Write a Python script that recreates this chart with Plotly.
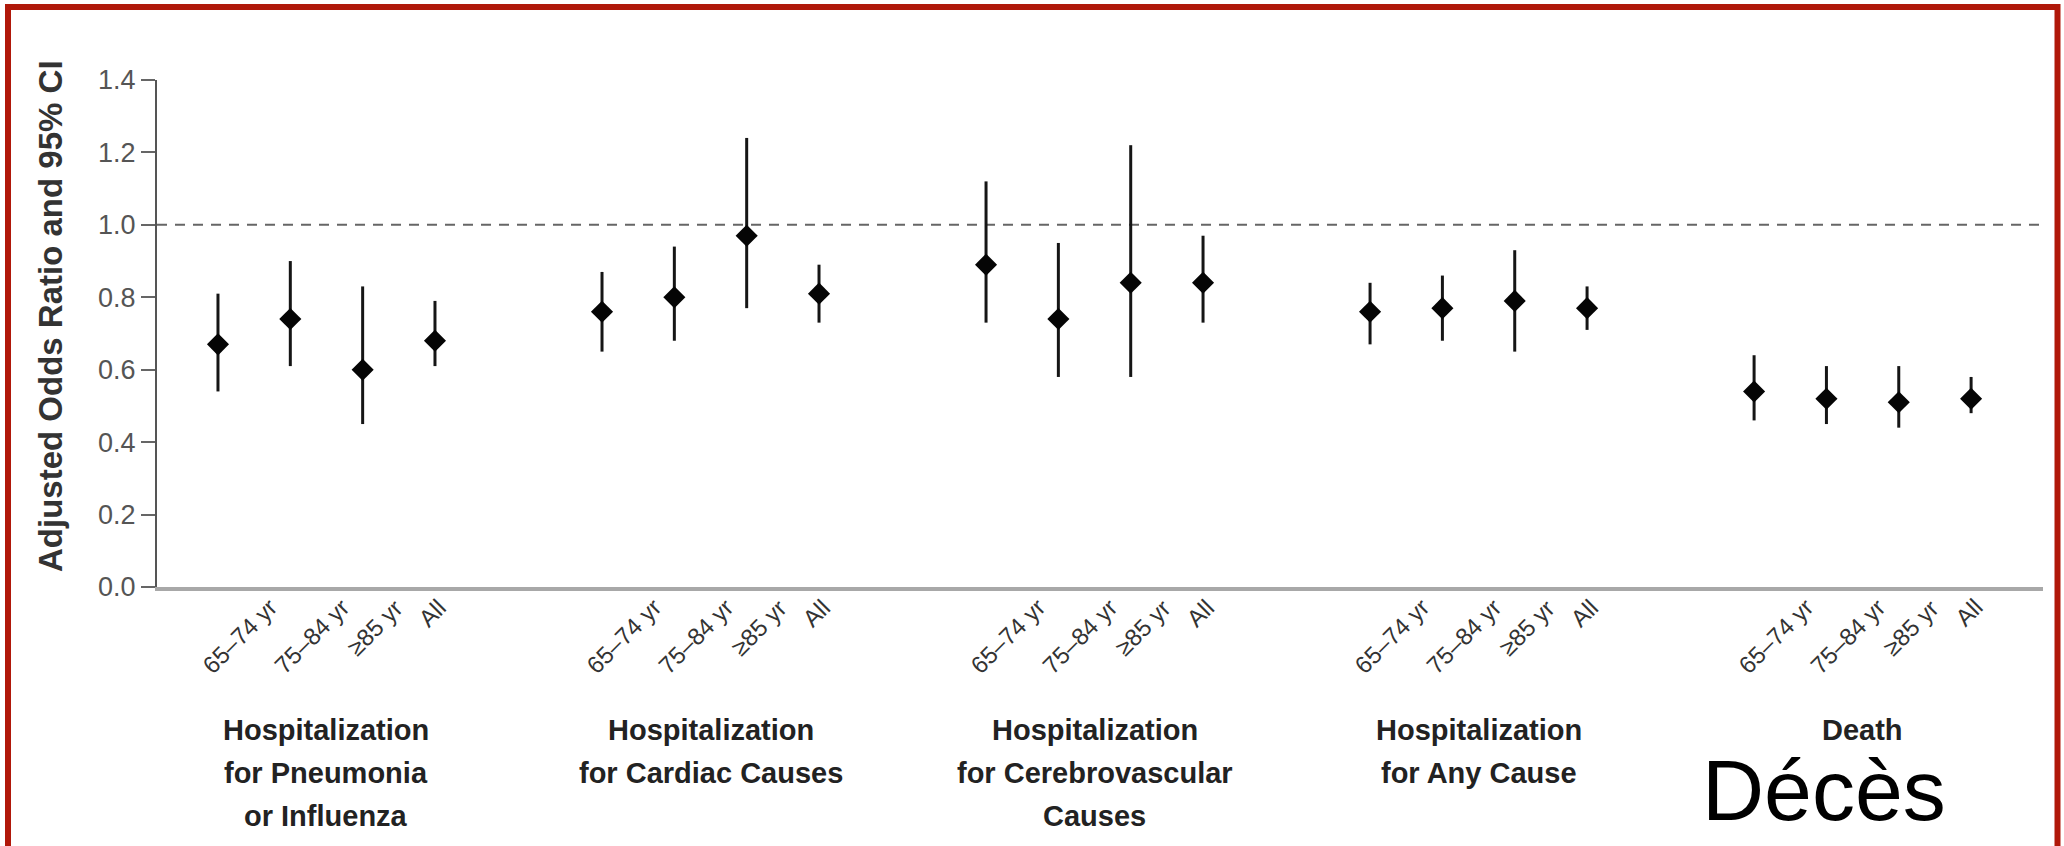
import plotly.graph_objects as go

# ---------------- data ----------------
age_labels = ["65–74 yr", "75–84 yr", "≥85 yr", "All"]
group_lines = [
    ["Hospitalization", "for Pneumonia", "or Influenza"],
    ["Hospitalization", "for Cardiac Causes"],
    ["Hospitalization", "for Cerebrovascular", "Causes"],
    ["Hospitalization", "for Any Cause"],
    ["Death"],
]
pneumonia_or = [0.67, 0.74, 0.60, 0.68]
pneumonia_lo = [0.54, 0.61, 0.45, 0.61]
pneumonia_hi = [0.81, 0.90, 0.83, 0.79]

cardiac_or = [0.76, 0.80, 0.97, 0.81]
cardiac_lo = [0.65, 0.68, 0.77, 0.73]
cardiac_hi = [0.87, 0.94, 1.24, 0.89]

cerebro_or = [0.89, 0.74, 0.84, 0.84]
cerebro_lo = [0.73, 0.58, 0.58, 0.73]
cerebro_hi = [1.12, 0.95, 1.22, 0.97]

anycause_or = [0.76, 0.77, 0.79, 0.77]
anycause_lo = [0.67, 0.68, 0.65, 0.71]
anycause_hi = [0.84, 0.86, 0.93, 0.83]

death_or = [0.54, 0.52, 0.51, 0.52]
death_lo = [0.46, 0.45, 0.44, 0.48]
death_hi = [0.64, 0.61, 0.61, 0.58]

y_ticks = [0.0, 0.2, 0.4, 0.6, 0.8, 1.0, 1.2, 1.4]
y_tick_text = ["0.0", "0.2", "0.4", "0.6", "0.8", "1.0", "1.2", "1.4"]
y_title = "Adjusted Odds Ratio and 95% CI"
reference_line = 1.0
overlay_text = "Décès"

# ---------------- layout constants ----------------
W, H = 2064, 846
ML, MR, MT, MB = 157, 21, 80, 259
PW, PH = W - ML - MR, H - MT - MB
GROUP_STEP = 5.309

all_or = [pneumonia_or, cardiac_or, cerebro_or, anycause_or, death_or]
all_lo = [pneumonia_lo, cardiac_lo, cerebro_lo, anycause_lo, death_lo]
all_hi = [pneumonia_hi, cardiac_hi, cerebro_hi, anycause_hi, death_hi]

xs, ys, eplus, eminus, tickvals, ticktext = [], [], [], [], [], []
for g, (vals, lo, hi) in enumerate(zip(all_or, all_lo, all_hi)):
    for j, (v, l, h) in enumerate(zip(vals, lo, hi)):
        x = g * GROUP_STEP + j
        xs.append(x)
        ys.append(v)
        eplus.append(h - v)
        eminus.append(v - l)
        tickvals.append(x)
        ticktext.append(age_labels[j])

fig = go.Figure()
fig.add_trace(go.Scatter(
    x=xs, y=ys, mode="markers",
    marker=dict(symbol="diamond", size=17, color="#050505", line=dict(width=0)),
    error_y=dict(type="data", symmetric=False, array=eplus, arrayminus=eminus,
                 width=0, thickness=3, color="#151515"),
    showlegend=False, hoverinfo="skip",
))

# reference line
fig.add_shape(type="line", xref="paper", x0=0, x1=1, yref="y",
              y0=reference_line, y1=reference_line,
              line=dict(color="#666666", width=2, dash="10px,8px"), layer="below")


def px_x(p):
    return (p - ML) / PW


def px_y(p):
    return (H - MB - p) / PH


# red frame around the whole picture
fig.add_shape(type="rect", xref="paper", yref="paper",
              x0=px_x(8), x1=px_x(2057.5), y0=px_y(849), y1=px_y(7),
              line=dict(color="#B0180A", width=6), fillcolor="rgba(0,0,0,0)")

annotations = []
# rotated category labels below each tick
for x, t in zip(tickvals, ticktext):
    annotations.append(dict(
        x=x, xref="x", y=px_y(591), yref="paper", text=t, textangle=-45,
        showarrow=False, xanchor="left", yanchor="top", xshift=-24,
        font=dict(family="Liberation Sans Narrow, Arial Narrow, Liberation Sans, sans-serif",
                  size=24, color="#333333"),
    ))

LINE_Y0, LINE_DY = 730, 43
for g, lines in enumerate(group_lines):
    cx = g * GROUP_STEP + 1.5
    for k, t in enumerate(lines):
        annotations.append(dict(
            x=cx, xref="x", y=px_y(LINE_Y0 + LINE_DY * k), yref="paper",
            text="<b>" + t + "</b>", showarrow=False, xanchor="center", yanchor="middle",
            font=dict(family="Liberation Sans, Arial, sans-serif", size=29, color="#222222"),
        ))

# y-axis title
annotations.append(dict(
    x=px_x(50), xref="paper", y=px_y(316), yref="paper", text="<b>" + y_title + "</b>",
    textangle=-90, showarrow=False, xanchor="center", yanchor="middle",
    font=dict(family="Liberation Sans, Arial, sans-serif", size=33, color="#333333"),
))

annotations.append(dict(
    x=px_x(1824), xref="paper", y=px_y(790), yref="paper", text=overlay_text,
    showarrow=False, xanchor="center", yanchor="middle",
    font=dict(family="Liberation Sans, Arial, sans-serif", size=86, color="#000000"),
))

fig.update_layout(
    width=W, height=H,
    margin=dict(l=ML, r=MR, t=MT, b=MB, pad=0),
    paper_bgcolor="white", plot_bgcolor="white",
    annotations=annotations,
    xaxis=dict(
        range=[-0.843, 25.23], tickmode="array", tickvals=tickvals, ticktext=ticktext,
        showticklabels=False, showgrid=False, zeroline=False,
        showline=True, linecolor="#A8A8A8", linewidth=4, ticks="",
    ),
    yaxis=dict(
        range=[0, 1.4], tickmode="array", tickvals=y_ticks, ticktext=y_tick_text,
        showgrid=False, zeroline=False, showline=True, linecolor="#555555", linewidth=2,
        ticks="outside", ticklen=14, tickwidth=2, tickcolor="#666666",
        tickfont=dict(family="Liberation Sans, Arial, sans-serif", size=27, color="#555555"),
    ),
)

fig.write_html("out.html", config={"displayModeBar": False},
               post_script="document.body.style.margin='0';document.body.style.overflow='hidden';")
